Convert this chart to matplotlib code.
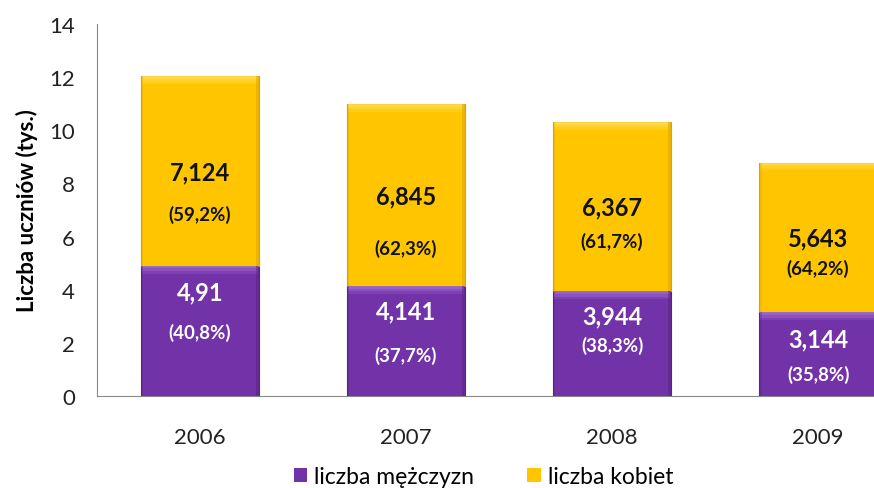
import numpy as np
import matplotlib.pyplot as plt
from matplotlib.patches import Rectangle

plt.rcParams['font.family'] = ['Lato', 'DejaVu Sans']

lata = ['2006', '2007', '2008', '2009']
mezczyzni = [4.91, 4.141, 3.944, 3.144]
kobiety = [7.124, 6.845, 6.367, 5.643]

c_men, c_men_hi, c_men_dk = '#7232A8', '#9b66cf', '#5a2582'
c_wom, c_wom_hi, c_wom_dk = '#FFC600', '#FFDB4d', '#d9a400'

fig = plt.figure(figsize=(8.74, 4.89), dpi=100)
ax = fig.add_axes([0.111, 0.188, 0.943, 0.761])

x = np.arange(len(lata))
w = 0.57
men = np.array(mezczyzni)
wom = np.array(kobiety)
tot = men + wom


def bevel(xc, y0, h, base, hi, dk):
    ax.bar(xc, h, w, bottom=y0, color=base, edgecolor=dk, linewidth=0.8, zorder=2)
    # soft lighter rim on top, darker rim on the sides
    for k, a in enumerate([0.9, 0.6, 0.3]):
        ax.add_patch(Rectangle((xc - w / 2 + 0.005, y0 + h - 0.1 * (k + 1)), w - 0.01, 0.1,
                               color=hi, lw=0, alpha=a, zorder=3))
    ax.add_patch(Rectangle((xc + w / 2 - 0.015, y0), 0.015, h, color=dk, lw=0, zorder=3, alpha=0.5))
    ax.add_patch(Rectangle((xc - w / 2, y0), 0.01, h, color=dk, lw=0, zorder=3, alpha=0.3))


for i in x:
    bevel(i, 0, men[i], c_men, c_men_hi, c_men_dk)
    bevel(i, men[i], wom[i], c_wom, c_wom_hi, c_wom_dk)

ax.bar([0], [0], color=c_men, label='liczba mężczyzn')
ax.bar([0], [0], color=c_wom, label='liczba kobiet')

# label offsets in points (number, percent) from segment centres
off_w = [(-1, -31), (-1, -38), (0, -25), (0, -22)]
off_m = [(28, -1), (22, -10), (20, -1), (11, -14)]


def fmt(v):
    return str(v).replace('.', ',')


def pct(v):
    return '(' + f'{v:.1f}'.replace('.', ',') + '%)'


for i in x:
    cw = men[i] + wom[i] / 2
    ax.annotate(fmt(wom[i]), (i, cw), xytext=(0, off_w[i][0]), textcoords='offset points',
                ha='center', va='center', fontsize=17, fontweight='bold', color='#111111', zorder=5)
    ax.annotate(pct(wom[i] / tot[i] * 100), (i, cw), xytext=(0, off_w[i][1]), textcoords='offset points',
                ha='center', va='center', fontsize=13.5, fontweight='bold', color='#111111', zorder=5)
    cm = men[i] / 2
    ax.annotate(fmt(men[i]), (i, cm), xytext=(0, off_m[i][0]), textcoords='offset points',
                ha='center', va='center', fontsize=17, fontweight='bold', color='white', zorder=5)
    ax.annotate(pct(men[i] / tot[i] * 100), (i, cm), xytext=(0, off_m[i][1]), textcoords='offset points',
                ha='center', va='center', fontsize=13.5, fontweight='bold', color='white', zorder=5)

ax.set_xlim(-0.5, 3.5)
ax.set_ylim(0, 14)
ax.set_yticks(range(0, 15, 2))
ax.set_xticks(x)
ax.set_xticklabels(lata)
ax.tick_params(axis='y', length=0, pad=16, labelsize=16, colors='#222222')
ax.tick_params(axis='x', length=0, pad=22, labelsize=16, colors='#222222')
for s in ['top', 'right']:
    ax.spines[s].set_visible(False)
ax.spines['left'].set_color('#888888')
ax.spines['bottom'].set_color('#888888')
ax.set_ylabel('Liczba uczniów (tys.)', fontsize=16, fontweight='bold', labelpad=8)

fig.legend(loc='lower center', bbox_to_anchor=(0.553, -0.04), ncol=2, frameon=False,
           fontsize=16.5, handlelength=0.6, handleheight=0.6, handletextpad=0.3, columnspacing=2.3)

fig.savefig('out.png', dpi=100)
